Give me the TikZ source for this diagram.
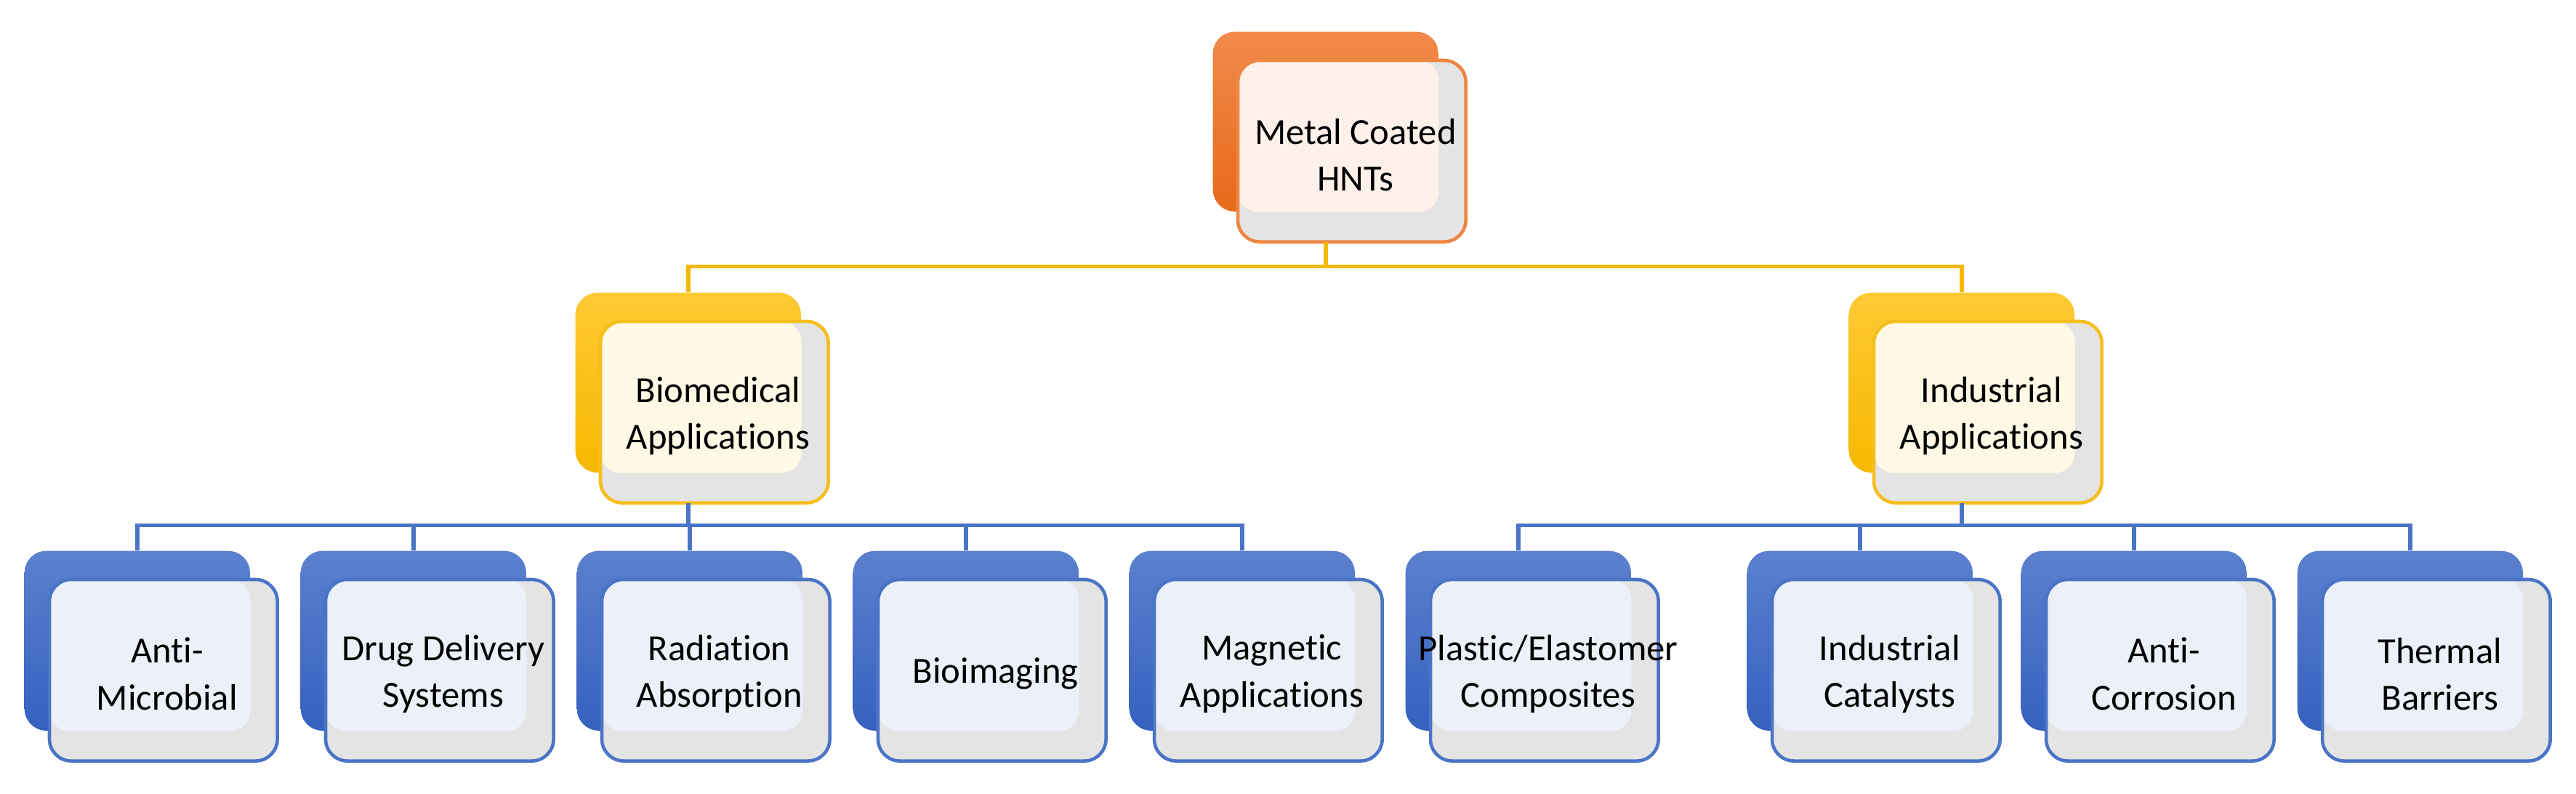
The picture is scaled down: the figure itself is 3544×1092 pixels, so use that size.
\documentclass[tikz,border=0pt]{standalone}
\usepackage{fontspec}
\setmainfont{Carlito}[Ligatures={NoCommon,NoContextual},RawFeature={-liga;-clig;-calt}]
\begin{document}
\definecolor{orA}{HTML}{F08A4B}\definecolor{orB}{HTML}{E8691A}\definecolor{orL}{HTML}{FDF1E9}\definecolor{orE}{HTML}{EE8540}
\definecolor{yeA}{HTML}{FFC935}\definecolor{yeB}{HTML}{F5B800}\definecolor{yeL}{HTML}{FFF9E5}\definecolor{yeE}{HTML}{F4BE1C}
\definecolor{blA}{HTML}{5B80CE}\definecolor{blB}{HTML}{3561BE}\definecolor{blL}{HTML}{ECF0F8}\definecolor{blE}{HTML}{4A74C6}
\definecolor{shd}{HTML}{E4E4E4}
\newcommand{\mybox}[5]{% name, x, y, scheme, text
  \node[back, top color=#4A, bottom color=#4B, anchor=north west] (#1b) at (#2,#3) {};
  \node[front, fill=shd, anchor=north west] (#1) at ([xshift=0.35cm,yshift=-0.4cm]#1b.north west) {};
  \fill[#4L, rounded corners=0.28cm] (#1.north west) rectangle (#1b.south east);
  \draw[#4E, line width=1.3pt, rounded corners=0.3cm] (#1.north west) rectangle (#1.south east);
  \node[txt] at ([xshift=0.05cm,yshift=-0.05cm]#1.center) {#5};
}
\begin{tikzpicture}[x=0.01cm,y=-0.01cm,
  back/.style={draw=none, rounded corners=0.3cm, minimum width=3.1cm, minimum height=2.47cm, inner sep=0pt},
  front/.style={draw=none, rounded corners=0.3cm, minimum width=3.12cm, minimum height=2.48cm, inner sep=0pt},
  txt/.style={align=center, font=\fontsize{14.4}{18.3}\selectfont},
  con/.style={line width=1.6pt}]
\useasboundingbox (0,0) rectangle (3544,1092);
\fill[white] (0,0) rectangle (3544,1092);
\mybox{top}{1668}{43}{or}{Metal Coated\\HNTs}
\mybox{bio}{791}{402}{ye}{Biomedical\\Applications}
\mybox{ind}{2543}{402}{ye}{Industrial\\Applications}
\mybox{b1}{33}{757}{bl}{Anti-\\Microbial}
\mybox{b2}{413}{757}{bl}{Drug Delivery\\Systems}
\mybox{b3}{793}{757}{bl}{Radiation\\Absorption}
\mybox{b4}{1173}{757}{bl}{Bioimaging}
\mybox{b5}{1553}{757}{bl}{Magnetic\\Applications}
\mybox{b6}{1933}{757}{bl}{Plastic/Elastomer\\Composites}
\mybox{b7}{2403}{757}{bl}{Industrial\\Catalysts}
\mybox{b8}{2780}{757}{bl}{Anti-\\Corrosion}
\mybox{b9}{3160}{757}{bl}{Thermal\\Barriers}
\begin{scope}[con, draw=yeB]
\draw (topb.north |- top.south) -- ++(0,34) -| (biob.north);
\draw (topb.north |- top.south) ++(0,34) -| (indb.north);
\end{scope}
\begin{scope}[con, draw=blE]
\foreach \k in {1,...,5}{\draw (biob.north |- bio.south) -- ++(0,31) -| (b\k b.north);}
\foreach \k in {6,...,9}{\draw (indb.north |- ind.south) -- ++(0,31) -| (b\k b.north);}
\end{scope}
\end{tikzpicture}
\end{document}
